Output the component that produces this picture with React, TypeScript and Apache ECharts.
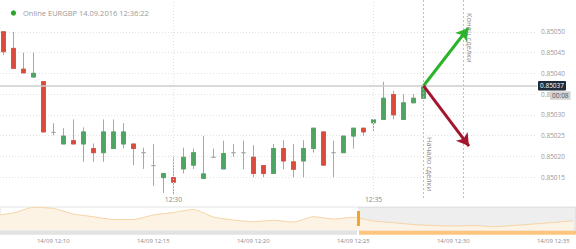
import React, { useEffect, useRef } from 'react';
import * as echarts from 'echarts';

// ---- data ----
const candleTimes = [
  '12:25:45', '12:26:00', '12:26:15', '12:26:30', '12:26:45', '12:27:00', '12:27:15', '12:27:30', '12:27:45',
  '12:28:00', '12:28:15', '12:28:30', '12:28:45', '12:29:00', '12:29:15', '12:29:30', '12:29:45', '12:30:00',
  '12:30:15', '12:30:30', '12:30:45', '12:31:00', '12:31:15', '12:31:30', '12:31:45', '12:32:00', '12:32:15',
  '12:32:30', '12:32:45', '12:33:00', '12:33:15', '12:33:30', '12:33:45', '12:34:00', '12:34:15', '12:34:30',
  '12:34:45', '12:35:00', '12:35:15', '12:35:30', '12:35:45', '12:36:00', '12:36:15',
];
const opens = [
  0.85050, 0.85046, 0.85041, 0.850391, 0.85038, 0.850258, 0.85023, 0.850238, 0.85023, 0.850219,
  0.850209, 0.850219, 0.85023, 0.85023, 0.850209, 0.850178, 0.850149, 0.850149, 0.85017, 0.850179,
  0.850147, 0.850198, 0.85017, 0.850209, 0.850209, 0.850198, 0.850178, 0.850159, 0.850219, 0.850187,
  0.850189, 0.850219, 0.850259, 0.850209, 0.850209, 0.850249, 0.850268, 0.850281, 0.850289, 0.850349,
  0.850289, 0.850329, 0.85034,
];
const closes = [
  0.850452, 0.850412, 0.850401, 0.85040, 0.850259, 0.850258, 0.850249, 0.85023, 0.850259, 0.850209,
  0.850259, 0.850259, 0.850259, 0.850219, 0.850209, 0.850178, 0.850159, 0.850138, 0.850198, 0.850209,
  0.850158, 0.850198, 0.850207, 0.850209, 0.850209, 0.850159, 0.850159, 0.850219, 0.850189, 0.850169,
  0.850219, 0.850268, 0.850179, 0.850209, 0.850249, 0.850268, 0.850259, 0.850288, 0.85034, 0.85030,
  0.850329, 0.85034, 0.85037,
];
const lows = [
  0.850444, 0.850412, 0.850401, 0.850391, 0.850259, 0.850251, 0.85023, 0.85023, 0.850187, 0.850187,
  0.850187, 0.850219, 0.850219, 0.850179, 0.85017, 0.850129, 0.850112, 0.850107, 0.850159, 0.85017,
  0.850147, 0.850198, 0.85017, 0.850199, 0.850169, 0.85015, 0.85015, 0.850159, 0.850169, 0.85015,
  0.85015, 0.850209, 0.850179, 0.85015, 0.850209, 0.850219, 0.850249, 0.850259, 0.850289, 0.850289,
  0.850289, 0.850329, 0.85034,
];
const highs = [
  0.850501, 0.85050, 0.85045, 0.85045, 0.85038, 0.85028, 0.850268, 0.850289, 0.85027, 0.850231,
  0.850289, 0.850289, 0.85028, 0.85023, 0.850221, 0.85023, 0.850159, 0.850199, 0.850221, 0.850219,
  0.850249, 0.850219, 0.850238, 0.85023, 0.850238, 0.850227, 0.850178, 0.85023, 0.850239, 0.85023,
  0.850239, 0.850268, 0.850259, 0.850238, 0.850249, 0.850268, 0.850268, 0.850288, 0.85038, 0.850358,
  0.85035, 0.85035, 0.85037,
];

const navTimes = [
  '12:07', '12:08', '12:09', '12:10', '12:11', '12:12', '12:13', '12:14', '12:15', '12:16',
  '12:17', '12:18', '12:19', '12:20', '12:21', '12:22', '12:23', '12:24', '12:25', '12:26',
  '12:27', '12:28', '12:29', '12:30', '12:31', '12:32', '12:33', '12:34', '12:35', '12:36',
];
const navValues = [
  14.5, 17, 22.7, 21.5, 16, 13.3, 10.5, 10.5, 15, 17.5,
  20.5, 13, 10, 8.3, 9.7, 8, 13.3, 11, 12.7, 9,
  7.3, 5.5, 4.5, 4, 4.5, 3.3, 4.5, 6, 7.5, 9.3,
];

const xTickLabels = ['12:30', '12:35'];
const navTickLabels = ['12:10', '12:15', '12:20', '12:25', '12:30', '12:35'];
const yTickLabels = ['0.85015', '0.85020', '0.85025', '0.85030', '0.85035', '0.85040', '0.85045', '0.85050'];

const viewStart = '12:25:40';
const viewEnd = '12:39:05';
const navStart = '12:07:20';
const navEnd = '12:36:08';
const navWindowStart = '12:25:14';
const tradeStart = '12:36:15';
const tradeEnd = '12:37:15';
const currentPrice = 0.85037;
const countdown = '00:08';
const upTarget: [string, number] = ['12:37:22', 0.850509];
const downTarget: [string, number] = ['12:37:23', 0.850225];
const titleText = 'Online EURGBP 14.09.2016 12:36:22';
const dateLabel = '14/09';

const toSec = (s: string) => {
  const p = s.split(':').map(Number);
  return (p[0] - 12) * 3600 + p[1] * 60 + (p[2] || 0);
};
const fmtHM = (v: number) => {
  const h = 12 + Math.floor(v / 3600);
  const m = Math.floor((v % 3600) / 60);
  return `${h}:${String(m).padStart(2, '0')}`;
};

const FONT = 'Open Sans';

export default function App() {
  const ref = useRef<HTMLDivElement>(null);
  useEffect(() => {
    if (!ref.current) return;
    const chart = echarts.init(ref.current, undefined, { renderer: 'svg' });

    const candles = candleTimes.map((t, i) => [toSec(t), opens[i], closes[i], lows[i], highs[i]]);
    const bodies = candleTimes
      .map((t, i) => [toSec(t), opens[i], closes[i], Math.min(opens[i], closes[i]), Math.max(opens[i], closes[i])])
      .filter((d) => d[1] !== d[2]);
    const nav = navTimes.map((t, i) => [toSec(t), navValues[i]]);

    const gridColors = [0.8501, 0.85015, 0.8502, 0.85025, 0.8503, 0.85035, 0.8504, 0.85045, 0.8505, 0.85055, 0.8506].map(
      (v) => (yTickLabels.includes(v.toFixed(5)) ? '#e2e2e2' : 'rgba(0,0,0,0)')
    );

    const option: any = {
      animation: false,
      textStyle: { fontFamily: FONT },
      grid: [
        { left: 0, right: 39, top: -9.8, height: 207.8, outerBoundsMode: 'none', containLabel: false },
        {
          left: 0, right: 0, top: 207, height: 23, show: true, borderColor: '#e4e4e4', borderWidth: 1,
          backgroundColor: 'rgba(0,0,0,0)', outerBoundsMode: 'none', containLabel: false,
        },
      ],
      xAxis: [
        {
          type: 'value', gridIndex: 0, min: toSec(viewStart), max: toSec(viewEnd),
          axisLine: { show: false }, axisTick: { show: false }, splitLine: { show: false },
          axisLabel: {
            customValues: xTickLabels.map((s) => toSec(s)), formatter: (v: number) => fmtHM(v),
            fontSize: 6.8, color: '#8a8a8a', margin: 1, verticalAlign: 'middle', fontFamily: FONT,
          },
        },
        {
          type: 'value', gridIndex: 1, min: toSec(navStart), max: toSec(navEnd),
          axisLine: { show: false }, axisTick: { show: false }, splitLine: { show: false },
          axisLabel: {
            customValues: navTickLabels.map((s) => toSec(s)), formatter: (v: number) => `${dateLabel} ${fmtHM(v)}`,
            fontSize: 6, color: '#8a8a8a', margin: 11, verticalAlign: 'middle', fontFamily: FONT,
          },
        },
      ],
      yAxis: [
        {
          type: 'value', gridIndex: 0, position: 'right', min: 0.8501, max: 0.8506, interval: 0.00005,
          axisLine: { show: false }, axisTick: { show: false },
          axisLabel: {
            formatter: (v: number) => (yTickLabels.includes(v.toFixed(5)) ? v.toFixed(5) : ''),
            fontSize: 6.5, color: '#9a9a9a', margin: 4, fontFamily: FONT,
          },
          splitLine: { show: true, lineStyle: { color: gridColors, type: [1, 2], width: 1 } },
        },
        { type: 'value', gridIndex: 1, min: 0, max: 23, show: false },
      ],
      series: [
        {
          type: 'candlestick', name: 'wicks', xAxisIndex: 0, yAxisIndex: 0, data: candles, barWidth: 5,
          itemStyle: { color: '#a8a8a8', color0: '#a8a8a8', borderColor: '#a8a8a8', borderColor0: '#a8a8a8', borderWidth: 1 },
        },
        {
          type: 'candlestick', name: 'bodies', xAxisIndex: 0, yAxisIndex: 0, data: bodies, barWidth: 5,
          itemStyle: { color: '#4ea562', color0: '#dc4a3c', borderColor: '#4ea562', borderColor0: '#dc4a3c', borderWidth: 0.8 },
          markLine: {
            silent: true, animation: false, symbol: ['none', 'none'], label: { show: false },
            data: [
              ...xTickLabels.map((s) => ({ xAxis: toSec(s), lineStyle: { color: '#e2e2e2', type: [1, 2], width: 1 } })),
              { xAxis: toSec(tradeStart), lineStyle: { color: '#b0b0b0', type: [2, 2], width: 0.8 } },
              { xAxis: toSec(tradeEnd), lineStyle: { color: '#b0b0b0', type: [2, 2], width: 0.8 } },
              [
                { coord: [toSec(viewStart), currentPrice] },
                {
                  coord: [toSec(viewEnd), currentPrice],
                  lineStyle: { color: '#cccccc', width: 1.5, type: 'solid' },
                  label: {
                    show: true, position: 'end', formatter: currentPrice.toFixed(5), color: '#ffffff',
                    backgroundColor: '#1e2b3b', padding: [1.5, 2, 1, 2], fontSize: 6.5, distance: 1,
                    borderRadius: 1, fontFamily: FONT,
                  },
                },
              ],
              [
                { coord: [toSec(tradeStart), currentPrice], symbol: 'none' },
                { coord: [toSec(upTarget[0]), upTarget[1]], symbol: 'arrow', symbolSize: [11, 12], lineStyle: { color: '#2db32a', width: 3, type: 'solid' } },
              ],
              [
                { coord: [toSec(tradeStart), currentPrice], symbol: 'none' },
                { coord: [toSec(downTarget[0]), downTarget[1]], symbol: 'arrow', symbolSize: [11, 12], lineStyle: { color: '#a3162e', width: 3, type: 'solid' } },
              ],
            ],
          },
        },
        {
          type: 'line', name: 'navigator', xAxisIndex: 1, yAxisIndex: 1, data: nav, symbol: 'none', smooth: 0.2,
          lineStyle: { color: '#f3d3a6', width: 1 },
          areaStyle: { color: '#fdf3e4', opacity: 1 },
          markArea: {
            silent: true, itemStyle: { color: 'rgba(170,170,170,0.2)' },
            data: [[{ xAxis: toSec(navWindowStart) }, { xAxis: toSec(navEnd) }]],
          },
          markLine: {
            silent: true, animation: false, symbol: ['none', 'none'], label: { show: false },
            lineStyle: { color: '#f2a431', width: 3, type: 'solid', cap: 'butt' },
            data: [[{ coord: [toSec(navWindowStart), 4] }, { coord: [toSec(navWindowStart), 19] }]],
          },
        },
      ],
    };
    chart.setOption(option);

    const xStart = chart.convertToPixel({ xAxisIndex: 0 } as any, toSec(tradeStart)) as number;
    const xEnd = chart.convertToPixel({ xAxisIndex: 0 } as any, toSec(tradeEnd)) as number;
    const yPrice = chart.convertToPixel({ yAxisIndex: 0 } as any, currentPrice) as number;
    const xHandle = chart.convertToPixel({ xAxisIndex: 1 } as any, toSec(navWindowStart)) as number;

    chart.setOption({
      graphic: [
        { type: 'circle', z: 100, shape: { cx: 13.5, cy: 13, r: 2.6 }, style: { fill: '#2aa52a' } },
        {
          type: 'text', z: 100, x: 23, y: 13,
          style: { text: titleText, fontSize: 7.5, fill: '#9a9a9a', fontFamily: FONT, verticalAlign: 'middle', align: 'left' },
        },
        {
          type: 'text', z: 100, x: xStart + 2, y: 137, rotation: -Math.PI / 2,
          style: { text: 'Начало сделки', fontSize: 7.5, fill: '#8a8a8a', fontFamily: FONT, align: 'left', verticalAlign: 'bottom' },
        },
        {
          type: 'text', z: 100, x: xEnd + 2, y: 13, rotation: -Math.PI / 2,
          style: { text: 'Конец сделки', fontSize: 7.5, fill: '#8a8a8a', fontFamily: FONT, align: 'left', verticalAlign: 'bottom' },
        },
        {
          type: 'text', z: 100, x: 550, y: yPrice + 5.5,
          style: {
            text: countdown, fontSize: 6.5, fill: '#555555', fontFamily: FONT, align: 'left', verticalAlign: 'top',
            backgroundColor: '#d4d4d4', padding: [1, 2, 0.5, 2],
          },
        },
        { type: 'rect', z: 100, shape: { x: 0, y: 230.8, width: xHandle - 1, height: 4 }, style: { fill: '#e2e2e2' } },
        { type: 'rect', z: 100, shape: { x: xHandle + 1, y: 230.8, width: 576 - xHandle - 1, height: 4 }, style: { fill: '#fdc47e' } },
      ],
    });

    return () => chart.dispose();
  }, []);

  return (
    <div
      ref={ref}
      style={{ position: 'absolute', left: 0, top: 0, width: 576, height: 249, background: '#ffffff' }}
    />
  );
}
